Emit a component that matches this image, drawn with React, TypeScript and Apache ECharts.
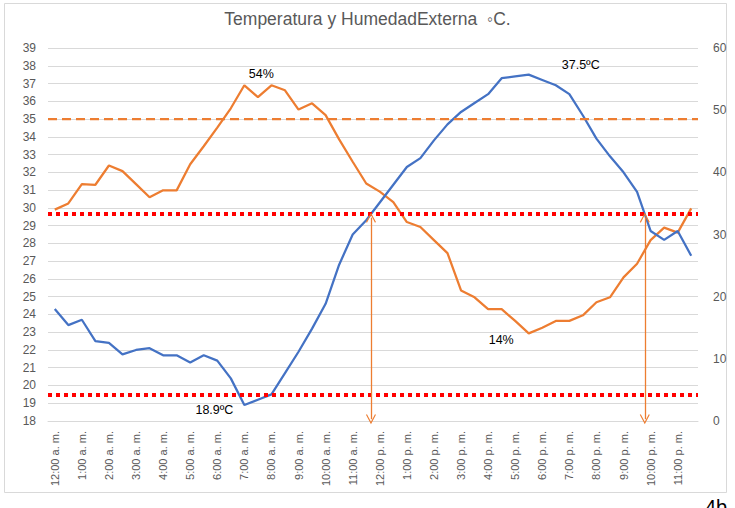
import React, { useEffect, useRef } from "react";
import * as echarts from "echarts";

const hourLabels = [
  "12:00 a. m.", "1:00 a. m.", "2:00 a. m.", "3:00 a. m.", "4:00 a. m.", "5:00 a. m.",
  "6:00 a. m.", "7:00 a. m.", "8:00 a. m.", "9:00 a. m.", "10:00 a. m.", "11:00 a. m.",
  "12:00 p. m.", "1:00 p. m.", "2:00 p. m.", "3:00 p. m.", "4:00 p. m.", "5:00 p. m.",
  "6:00 p. m.", "7:00 p. m.", "8:00 p. m.", "9:00 p. m.", "10:00 p. m.", "11:00 p. m.",
];

// Temperatura (°C), every 30 minutes
const temperature = [
  24.3, 23.4, 23.7, 22.5, 22.4, 21.75, 22.0, 22.1, 21.7, 21.7, 21.3, 21.7,
  21.4, 20.4, 18.9, 19.2, 19.5, 20.7, 21.9, 23.2, 24.6, 26.8, 28.5, 29.3,
  30.3, 31.3, 32.3, 32.8, 33.8, 34.7, 35.4, 35.9, 36.4, 37.3, 37.4, 37.5,
  37.2, 36.9, 36.4, 35.2, 33.9, 32.9, 32.0, 30.9, 28.7, 28.2, 28.7, 27.3,
];

// Humedad externa (%), every 30 minutes
const humidity = [
  34.0, 35.0, 38.1, 38.0, 41.1, 40.2, 38.1, 36.0, 37.1, 37.1, 41.3, 44.2,
  47.2, 50.3, 54.0, 52.1, 54.0, 53.2, 50.1, 51.1, 49.2, 45.3, 41.7, 38.2,
  36.9, 35.2, 32.0, 31.2, 29.1, 27.0, 21.0, 19.9, 18.0, 18.0, 16.1, 14.1,
  15.0, 16.1, 16.1, 17.0, 19.1, 19.9, 23.1, 25.3, 29.1, 31.1, 30.3, 34.2,
];

const redLimits = [29.65, 19.45];
const orangeLimit = 35;
const arrowX = [23.35, 43.57];
const arrowTop = 29.45;
const arrowBottom = 18.1;

const tempMinIndex = 14;
const tempMaxIndex = 35;
const humMaxIndex = 14;
const humMinIndex = 35;

const categories: string[] = [];
hourLabels.forEach((h) => {
  categories.push(h);
  categories.push(h.replace(":00", ":30"));
});

const FONT = "Liberation Sans";
const arrowPath = "path://M0,10 L5,0 L10,10 L9,10.6 L5,2.6 L1,10.6 Z";

export default function App() {
  const ref = useRef<HTMLDivElement>(null);
  useEffect(() => {
    if (!ref.current) return;
    const chart = echarts.init(ref.current, undefined, { renderer: "svg" });
    const labelStyle = { color: "#000", fontSize: 12.5, fontFamily: FONT };
    chart.setOption({
      animation: false,
      backgroundColor: "#fff",
      title: {
        text: "Temperatura y HumedadExterna  ◦C.",
        left: "center",
        top: 5,
        textStyle: { color: "#595959", fontSize: 17.5, fontWeight: "normal", fontFamily: FONT },
      },
      graphic: [
        {
          type: "rect",
          shape: { x: 4.5, y: 3.5, width: 722, height: 489 },
          style: { fill: "none", stroke: "#d9d9d9", lineWidth: 1 },
          silent: true,
        },
        {
          type: "text",
          left: 705,
          top: 497,
          style: { text: "4b", fontSize: 20, fill: "#000", fontFamily: FONT },
          silent: true,
        },
      ],
      grid: { left: 48, right: 37, top: 48, bottom: 87 },
      xAxis: [
        {
          type: "category",
          data: categories,
          boundaryGap: true,
          axisLine: { lineStyle: { color: "#d9d9d9" } },
          axisTick: { show: false },
          axisLabel: {
            interval: 1,
            rotate: 90,
            color: "#595959",
            fontSize: 11,
            fontFamily: FONT,
            margin: 10,
          },
        },
        { type: "value", min: -0.5, max: 47.5, show: false },
      ],
      yAxis: [
        {
          type: "value",
          min: 18,
          max: 39,
          interval: 1,
          axisLine: { show: false },
          axisTick: { show: false },
          splitLine: { lineStyle: { color: "#d9d9d9", width: 1 } },
          axisLabel: { color: "#595959", fontSize: 12, fontFamily: FONT, margin: 12 },
        },
        {
          type: "value",
          min: 0,
          max: 60,
          interval: 10,
          axisLine: { show: false },
          axisTick: { show: false },
          splitLine: { show: false },
          axisLabel: { color: "#595959", fontSize: 12, fontFamily: FONT, margin: 15 },
        },
      ],
      series: [
        {
          name: "Temperatura",
          type: "line",
          data: temperature,
          xAxisIndex: 0,
          yAxisIndex: 0,
          symbol: "none",
          lineStyle: { color: "#4472C4", width: 2.25 },
          itemStyle: { color: "#4472C4" },
          z: 4,
          markPoint: {
            silent: true,
            symbol: "circle",
            symbolSize: 0,
            data: [
              {
                coord: [tempMinIndex, temperature[tempMinIndex]],
                label: { show: true, position: "left", offset: [-6, 5], formatter: temperature[tempMinIndex].toFixed(1) + "ºC", ...labelStyle },
              },
              {
                coord: [tempMaxIndex, temperature[tempMaxIndex]],
                label: { show: true, position: "top", offset: [52, 2], formatter: temperature[tempMaxIndex].toFixed(1) + "ºC", ...labelStyle },
              },
            ],
          },
          markLine: {
            silent: true,
            symbol: "none",
            label: { show: false },
            data: [
              ...redLimits.map((v) => ({
                yAxis: v,
                lineStyle: { color: "#ff0000", width: 4, type: [4, 4] },
              })),
              { yAxis: orangeLimit, lineStyle: { color: "#ED7D31", width: 2.25, type: [9, 5] } },
            ],
          },
        },
        {
          name: "Humedad",
          type: "line",
          data: humidity,
          xAxisIndex: 0,
          yAxisIndex: 1,
          symbol: "none",
          lineStyle: { color: "#ED7D31", width: 2.25 },
          itemStyle: { color: "#ED7D31" },
          z: 3,
          markPoint: {
            silent: true,
            symbol: "circle",
            symbolSize: 0,
            data: [
              {
                coord: [humMaxIndex, humidity[humMaxIndex]],
                label: { show: true, position: "top", offset: [17, 0], formatter: Math.round(humidity[humMaxIndex]) + "%", ...labelStyle },
              },
              {
                coord: [humMinIndex, humidity[humMinIndex]],
                label: { show: true, position: "left", offset: [-10, 7], formatter: Math.round(humidity[humMinIndex]) + "%", ...labelStyle },
              },
            ],
          },
        },
        {
          name: "Flechas",
          type: "line",
          data: [],
          xAxisIndex: 1,
          yAxisIndex: 0,
          symbol: "none",
          z: 6,
          markLine: {
            silent: true,
            symbol: [arrowPath, arrowPath],
            symbolSize: [10, 10],
            label: { show: false },
            lineStyle: { color: "#ED7D31", width: 1.3, type: "solid" },
            data: arrowX.map((x) => [
              { coord: [x, arrowTop] },
              { coord: [x, arrowBottom] },
            ]),
          },
        },
      ],
    });
    return () => chart.dispose();
  }, []);
  return (
    <div
      ref={ref}
      style={{ position: "fixed", left: 0, top: 0, width: 735, height: 508, background: "#fff" }}
    />
  );
}
